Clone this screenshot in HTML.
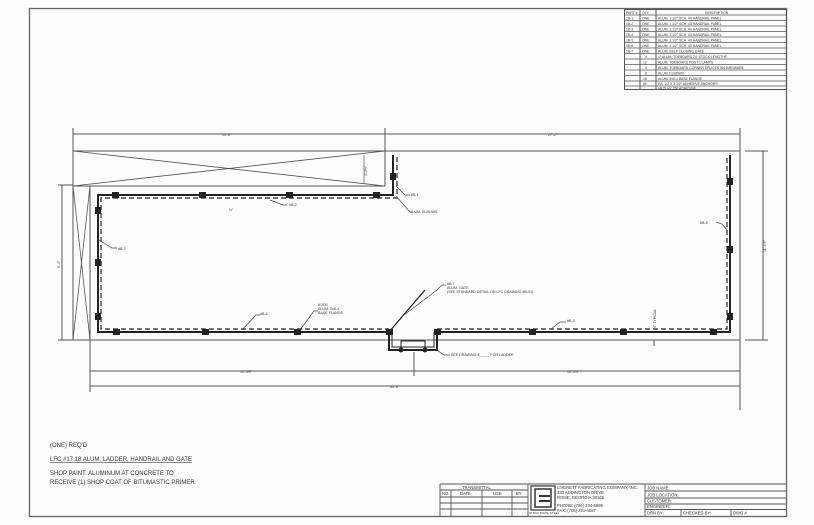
<!DOCTYPE html>
<html><head><meta charset="utf-8"><style>
html,body{margin:0;padding:0;background:#fdfdf9;}
svg{display:block;font-family:"Liberation Sans",sans-serif;}
text{fill:#333;}
</style></head><body>
<svg width="814" height="525" viewBox="0 0 814 525" xmlns="http://www.w3.org/2000/svg">
<rect width="814" height="525" fill="#fdfdf9"/>
<g stroke="#555" fill="none" stroke-width="1">
<!-- frame -->
<rect x="29.5" y="8.5" width="757" height="508" stroke="#666" stroke-width="1.3"/>
<!-- parts table -->
<rect x="624.5" y="9.5" width="162" height="80"/>
<line x1="640" y1="9" x2="640" y2="89"/><line x1="656" y1="9" x2="656" y2="89"/>
<g stroke-width="0.8">
<line x1="624" y1="15" x2="787" y2="15"/><line x1="624" y1="20.5" x2="787" y2="20.5"/><line x1="624" y1="26" x2="787" y2="26"/><line x1="624" y1="31.5" x2="787" y2="31.5"/><line x1="624" y1="37" x2="787" y2="37"/><line x1="624" y1="42.5" x2="787" y2="42.5"/><line x1="624" y1="48" x2="787" y2="48"/><line x1="624" y1="53.5" x2="787" y2="53.5"/><line x1="624" y1="59" x2="787" y2="59"/><line x1="624" y1="64.5" x2="787" y2="64.5"/><line x1="624" y1="70" x2="787" y2="70"/><line x1="624" y1="75.5" x2="787" y2="75.5"/><line x1="624" y1="81" x2="787" y2="81"/><line x1="624" y1="86" x2="787" y2="86"/>
</g>
<!-- dimension top -->
<line x1="73" y1="134" x2="740" y2="134"/>
<line x1="73" y1="128" x2="73" y2="340"/><line x1="385" y1="128" x2="385" y2="186"/><line x1="740" y1="128" x2="740" y2="410"/>
<!-- outer rect -->
<line x1="73" y1="151" x2="740" y2="151"/>
<line x1="73" y1="340" x2="740" y2="340"/>
<line x1="385" y1="151" x2="385" y2="186"/>
<line x1="73" y1="186" x2="385" y2="186"/>
<line x1="90" y1="186" x2="90" y2="392"/>
<!-- X hatches -->
<line x1="73" y1="151" x2="385" y2="186" stroke-width="0.8"/><line x1="73" y1="186" x2="385" y2="151" stroke-width="0.8"/>
<line x1="73" y1="186" x2="90" y2="340" stroke-width="0.8"/><line x1="90" y1="186" x2="73" y2="340" stroke-width="0.8"/>
<line x1="364" y1="155" x2="364" y2="184" stroke-width="0.7"/>
<!-- left dim -->
<line x1="62" y1="185" x2="62" y2="340"/><line x1="58" y1="185" x2="73" y2="185"/><line x1="58" y1="340" x2="73" y2="340"/>
<!-- right dim -->
<line x1="763" y1="151" x2="763" y2="340"/><line x1="745" y1="151" x2="768" y2="151"/><line x1="745" y1="340" x2="768" y2="340"/>
<!-- bottom dims -->
<line x1="90" y1="371" x2="740" y2="371"/><line x1="90" y1="386" x2="740" y2="386"/>
<line x1="414" y1="352" x2="414" y2="376"/>
<line x1="654" y1="340" x2="654" y2="346"/>
</g>
<!-- handrail -->
<g stroke="#222" fill="none">
<path d="M393 155 V195 H98 V332 H389" stroke-width="2"/>
<path d="M437 332 H730 V155" stroke-width="2"/>
<path d="M397 157 V198 H101 V329 H389" stroke-width="1.2" stroke-dasharray="5,3"/>
<path d="M437 329 H727 V157" stroke-width="1.2" stroke-dasharray="5,3"/>
<!-- ladder -->
<path d="M389 332 V350 H437 V332" stroke-width="2"/>
<path d="M392 332 V347 H434 V332" stroke-width="1"/>
<path d="M401 350 V341 H425 V350" stroke-width="1"/>
<!-- gate -->
<line x1="389" y1="332" x2="425" y2="290" stroke-width="1.3"/>
</g>
<g fill="#222">
<rect x="112" y="192" width="7" height="6"/><rect x="199" y="192" width="7" height="6"/><rect x="286" y="192" width="7" height="6"/><rect x="373" y="192" width="7" height="6"/>
<rect x="390" y="173" width="6" height="7"/>
<rect x="95" y="207" width="6" height="7"/><rect x="95" y="259" width="6" height="7"/><rect x="95" y="313" width="6" height="7"/>
<rect x="113" y="329" width="7" height="6"/><rect x="202" y="329" width="7" height="6"/><rect x="294" y="329" width="7" height="6"/><rect x="386" y="329" width="7" height="6"/>
<rect x="434" y="329" width="7" height="6"/><rect x="529" y="329" width="7" height="6"/><rect x="620" y="329" width="7" height="6"/><rect x="710" y="329" width="7" height="6"/>
<rect x="727" y="178" width="6" height="7"/><rect x="727" y="246" width="6" height="7"/><rect x="727" y="313" width="6" height="7"/>
<circle cx="401" cy="350" r="2.5"/><circle cx="425" cy="350" r="2.5"/>
</g>
<!-- leaders -->
<g stroke="#444" fill="none" stroke-width="0.7">
<path d="M396 186 L405 195 H410"/><path d="M396 196 L410 212"/>
<path d="M270 200 L283 205 H287"/><path d="M99 240 L112 248 H117"/>
<path d="M242 330 L256 315 H260"/><path d="M300 330 L314 311 H318"/>
<path d="M400 318 L437 290 L442 285 H446"/>
<path d="M551 329 L560 322 H566"/><path d="M727 230 L722 224 L716 222"/>
<path d="M437 350 L444 355 H450"/>
</g>
<g font-size="3.6" fill="#333">
<text x="222" y="136">10'-8"</text><text x="548" y="136">27'-2"</text>
<text x="411" y="196">#B-1</text><text x="410" y="213">ALUM. ELBOWS</text>
<text x="289" y="206">#B-2</text><text x="118" y="250">#B-3</text>
<text x="260" y="315">#B-4</text><text x="318" y="306">#1/D3</text><text x="318" y="310">ALUM. 3x6-4</text><text x="318" y="314">BASE FLANGE</text>
<text x="447" y="285">#B-7</text><text x="447" y="289">ALUM. GATE</text><text x="447" y="293">(SEE STANDARD DETAIL ON LFC DRAWING #B-01)</text>
<text x="567" y="322">#B-5</text><text x="700" y="224">#B-5</text>
<text x="451" y="356">SEE DRAWING #_____ FOR LADDER</text>
<text x="240" y="373">10'-4½"</text><text x="567" y="373">10'-3⅝"</text><text x="390" y="388">30'-6"</text>
<text x="229" y="211">½"</text>
<text transform="translate(60,268) rotate(-90)">5'-4"</text>
<text transform="translate(766,252) rotate(-90)">11'-4½"</text>
<text transform="translate(367,176) rotate(-90)">1'-2½"</text>
<text transform="translate(656,328) rotate(-90)">4" TYPICAL</text>
</g>
<!-- table text -->
<g font-size="3.4" fill="#333">
<text x="626" y="14">PART #</text><text x="642" y="14">QTY</text><text x="705" y="14">DESCRIPTION</text>
<text x="626" y="19.5">1B-1</text><text x="642" y="19.5">ONE</text><text x="658" y="19.5">ALUM. 1 1/2" SCH. 40 HANDRAIL PANEL</text>
<text x="626" y="25">1B-2</text><text x="642" y="25">ONE</text><text x="658" y="25">ALUM. 1 1/2" SCH. 40 HANDRAIL PANEL</text>
<text x="626" y="30.5">1B-3</text><text x="642" y="30.5">ONE</text><text x="658" y="30.5">ALUM. 1 1/2" SCH. 40 HANDRAIL PANEL</text>
<text x="626" y="36">1B-4</text><text x="642" y="36">ONE</text><text x="658" y="36">ALUM. 1 1/2" SCH. 40 HANDRAIL PANEL</text>
<text x="626" y="41.5">1B-5</text><text x="642" y="41.5">ONE</text><text x="658" y="41.5">ALUM. 1 1/2" SCH. 40 HANDRAIL PANEL</text>
<text x="626" y="47">1B-6</text><text x="642" y="47">ONE</text><text x="658" y="47">ALUM. 1 1/2" SCH. 40 HANDRAIL PANEL</text>
<text x="626" y="52.5">1B-7</text><text x="642" y="52.5">ONE</text><text x="658" y="52.5">ALUM. SELF CLOSING GATE</text>
<text x="645" y="58">4</text><text x="658" y="58">4" ALUM. TOEBOARD 24' STOCK LENGTHS</text>
<text x="643" y="63.5">12</text><text x="658" y="63.5">ALUM. TOEBOARD POST CLAMPS</text>
<text x="645" y="69">4</text><text x="658" y="69">ALUM. TOEBOARD CORNER SPLICES W/HARDWARE</text>
<text x="645" y="74.5">6</text><text x="658" y="74.5">ALUM. ELBOWS</text>
<text x="643" y="80">15</text><text x="658" y="80">ALUM. 3x6-4 BASE FLANGE</text>
<text x="643" y="85">60</text><text x="658" y="85">EA. 1/2 X 3 1/2" ADHESIVE ANCHORS</text>
<text x="658" y="89.5">HILTI HY 150 ADHESIVE</text>
</g>
<!-- notes -->
<g font-size="6" fill="#333">
<text x="50" y="447">(ONE) REQ'D</text>
<text x="50" y="461" text-decoration="underline">LFC #17.18 ALUM. LADDER, HANDRAIL AND GATE</text>
<text x="50" y="475">SHOP PAINT: ALUMINUM AT CONCRETE TO</text>
<text x="50" y="484">RECEIVE (1) SHOP COAT OF BITUMASTIC PRIMER</text>
</g>
<!-- title block -->
<g stroke="#555" fill="none" stroke-width="0.9">
<line x1="440" y1="484" x2="786" y2="484"/>
<line x1="440" y1="484" x2="440" y2="516"/>
<line x1="440" y1="490" x2="528" y2="490"/><line x1="440" y1="497" x2="528" y2="497"/><line x1="440" y1="503" x2="528" y2="503"/><line x1="440" y1="509" x2="528" y2="509"/>
<line x1="451" y1="490" x2="451" y2="516"/><line x1="482" y1="490" x2="482" y2="516"/><line x1="512" y1="490" x2="512" y2="516"/>
<line x1="528" y1="484" x2="528" y2="516"/><line x1="645" y1="484" x2="645" y2="516"/>
<line x1="645" y1="491" x2="786" y2="491"/><line x1="645" y1="498" x2="786" y2="498"/><line x1="645" y1="504" x2="786" y2="504"/><line x1="645" y1="509.5" x2="786" y2="509.5"/>
<line x1="681" y1="509.5" x2="681" y2="516"/><line x1="731" y1="509.5" x2="731" y2="516"/>
<rect x="531" y="486" width="24" height="24" stroke="#333" stroke-width="1.2"/>
<rect x="535" y="489" width="16" height="18" stroke="#333" stroke-width="1.5"/>
<line x1="539" y1="496" x2="550" y2="496" stroke-width="2" stroke="#333"/><line x1="539" y1="501" x2="550" y2="501" stroke-width="2" stroke="#333"/>
</g>
<g font-size="4.2" fill="#333">
<text x="462" y="489">TRANSMITTAL</text>
<text x="442" y="495">NO.</text><text x="460" y="495">DATE</text><text x="493" y="495">USE</text><text x="516" y="495">BY</text>
<text x="529" y="514" font-size="3">STRUCTURAL STEEL</text>
<text x="557" y="489">LIVERETT FABRICATING COMPANY, INC.</text>
<text x="557" y="494">333 ADDINGTON DRIVE</text>
<text x="557" y="499">ROME, GEORGIA 30165</text>
<text x="557" y="507">PHONE: (706) 234-8689</text>
<text x="557" y="512">FAX: (706) 291-4587</text>
<text x="647" y="489.5">JOB NAME:</text><text x="647" y="496.5">JOB LOCATION:</text><text x="647" y="502.5">CUSTOMER:</text><text x="647" y="508">ENGINEER:</text>
<text x="647" y="514.5">DRN BY:</text><text x="683" y="514.5">CHECKED BY:</text><text x="733" y="514.5">DWG #</text>
</g>
</svg>
</body></html>
